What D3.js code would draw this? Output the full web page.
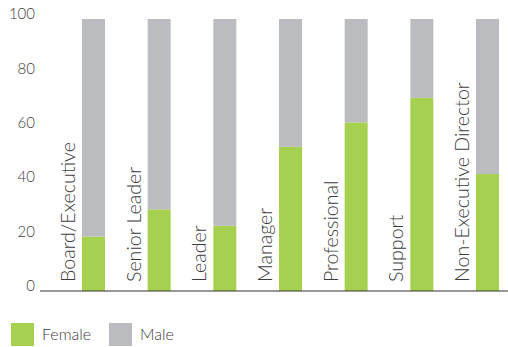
<!DOCTYPE html>
<html>
<head>
<meta charset="utf-8">
<script src="https://cdn.jsdelivr.net/npm/d3@7"></script>
<style>
  html, body { margin: 0; padding: 0; background: #fff; }
  svg { display: block; }
  text { font-family: Lato, "Noto Sans", sans-serif; font-weight: 300; fill: #3c3c3c; }
</style>
</head>
<body>
<svg id="chart" width="508" height="347"></svg>
<script>
const categories = ["Board/Executive", "Senior Leader", "Leader", "Manager", "Professional", "Support", "Non-Executive Director"];
const female = [20, 30, 24, 53, 62, 71, 43];
const male = female.map(v => 100 - v);
const yTicks = [0, 20, 40, 60, 80, 100];
const seriesNames = ["Female", "Male"];
const colors = ["#a6d04f", "#bbbcbf"];

const svg = d3.select("#chart");
const x = d3.scaleBand().domain(categories).range([82, 499]).paddingInner(0.65).paddingOuter(0);
const y = d3.scaleLinear().domain([0, 100]).range([291, 19]);

const rows = categories.map((c, i) => ({ cat: c, Female: female[i], Male: male[i] }));
const stack = d3.stack().keys(seriesNames)(rows);

svg.append("g").selectAll("g").data(stack).join("g")
  .attr("fill", (d, i) => colors[i])
  .selectAll("rect").data(d => d).join("rect")
  .attr("x", d => x(d.data.cat))
  .attr("width", x.bandwidth())
  .attr("y", d => y(d[1]))
  .attr("height", d => y(d[0]) - y(d[1]));

// y tick labels
svg.append("g").selectAll("text").data(yTicks).join("text")
  .attr("x", 35)
  .attr("y", d => y(d) - 5)
  .attr("dy", "0.35em")
  .attr("text-anchor", "end")
  .attr("font-size", 15)
  .text(d => d);

// axis line
svg.append("line")
  .attr("x1", 40).attr("x2", 508)
  .attr("y1", y(0)).attr("y2", y(0))
  .attr("stroke", "#333").attr("stroke-width", 1.2);

// category labels (rotated)
svg.append("g").selectAll("text").data(categories).join("text")
  .attr("transform", d => `translate(${x(d) - 7},282) rotate(-90)`)
  .attr("text-anchor", "start")
  .attr("font-size", 19.6)
  .text(d => d);

// legend
const legend = svg.append("g");
const lx = [11, 109];
seriesNames.forEach((s, i) => {
  legend.append("rect").attr("x", lx[i]).attr("y", 323).attr("width", 23).attr("height", 23).attr("fill", colors[i]);
  legend.append("text").attr("x", lx[i] + 31).attr("y", 334).attr("dy", "0.35em")
    .attr("font-size", 16).text(s);
});
</script>
</body>
</html>
